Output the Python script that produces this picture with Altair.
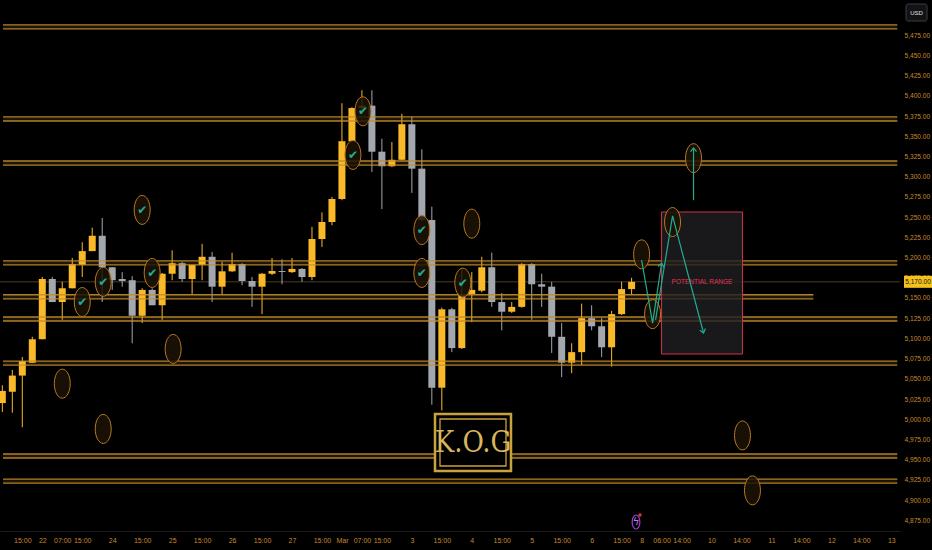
import math
import altair as alt
import pandas as pd

# ---- candles: bar index (one step per bar), open / high / low / close ----
bar_idx = list(range(-1, 63))
opens = [5020, 5034, 5054, 5070, 5099, 5173.5, 5145, 5162, 5191, 5208, 5227, 5188, 5173.5, 5172, 5128, 5160,
         5141, 5180, 5193, 5173.5, 5191, 5201, 5164, 5183, 5192, 5171, 5164, 5180, 5183.4, 5182, 5186, 5176,
         5223, 5244, 5272.5, 5344, 5385, 5388, 5331, 5313, 5321, 5365, 5310, 5246.5, 5039, 5136, 5088, 5155,
         5159, 5188, 5145, 5133, 5139, 5192, 5167, 5164, 5102, 5070, 5083, 5125, 5115, 5089, 5130, 5161]
highs = [5042, 5061, 5077, 5102, 5176, 5176, 5170, 5199.5, 5219, 5237, 5249, 5188, 5182, 5177, 5162, 5162,
         5181, 5209, 5195, 5191, 5217, 5207, 5195, 5206, 5193, 5176, 5181, 5199.5, 5198, 5199.5, 5187, 5238,
         5256, 5275, 5391, 5386, 5407, 5407, 5347, 5343, 5378, 5374, 5334, 5263, 5138, 5138, 5187, 5182,
         5201, 5206, 5156, 5145, 5193, 5193, 5180, 5170, 5119, 5094, 5143, 5141, 5125, 5134, 5170, 5175]
lows = [5009, 5008, 4990, 5069.6, 5099, 5145, 5123, 5162, 5176, 5208, 5145, 5160, 5164, 5094, 5119, 5141,
        5123, 5172, 5170, 5155, 5172, 5145, 5154, 5182, 5166, 5139, 5130, 5178.5, 5167, 5181, 5170, 5172,
        5213, 5240, 5271, 5343, 5383, 5306, 5260, 5312, 5320, 5280, 5245, 5018, 5011, 5083, 5087, 5120,
        5157, 5139, 5110, 5131.5, 5138, 5123, 5139, 5082, 5052, 5057, 5067, 5110, 5077, 5065, 5129, 5154]
closes = [5035, 5054, 5072, 5099, 5173.5, 5145, 5162, 5192, 5208, 5227, 5188, 5172, 5171, 5128, 5160, 5141,
          5180, 5193, 5173.5, 5191, 5201, 5164, 5183, 5192, 5171, 5164, 5180, 5183.4, 5182.2, 5186, 5176, 5223,
          5244, 5272.5, 5344, 5385, 5388, 5331, 5313, 5321, 5365, 5310, 5246.5, 5039, 5136, 5088, 5155, 5160,
          5188, 5145, 5133, 5139, 5192, 5167, 5164, 5102, 5070, 5083, 5125, 5115, 5089, 5130, 5161, 5170]
price_now = 5170

# ---- horizontal key levels (double lines) ----
level_top = [5488, 5374, 5319.5, 5196, 5154, 5126.5, 5072, 4957, 4926]
level_bot = [5483, 5369, 5314.5, 5191, 5149, 5121.5, 5067, 4952, 4921]
level_end = [88.6, 88.6, 88.6, 88.6, 80.2, 88.6, 88.6, 88.6, 88.6]

# ---- circled zones (bar index, price, has tick mark) ----
zone_k = [13.0, 9.1, 7.0, 14.0, 16.1, 5.0, 9.1, 35.1, 34.1, 41.0, 46.0, 41.0, 45.1, 68.2, 66.1, 63.0, 64.1, 73.1, 74.1]
zone_p = [5259, 5170, 5145, 5181, 5087, 5044, 4988, 5381, 5327, 5234, 5242, 5181, 5169, 5323, 5244, 5204, 5130, 4980, 4912]
zone_tick = [1, 1, 1, 1, 0, 0, 0, 1, 1, 1, 0, 1, 1, 0, 0, 0, 0, 0, 0]

# ---- projected path arrows ----
arrow_id = [0, 0, 0, 1, 1, 1, 2, 2]
arrow_step = [0, 1, 2, 0, 1, 2, 0, 1]
arrow_k = [63.0, 64.1, 65.0, 64.4, 66.1, 69.2, 68.2, 68.2]
arrow_p = [5197, 5119, 5193, 5123, 5251.5, 5106.7, 5271, 5335.6]

# ---- potential range box ----
range_k = [65.0, 73.1]
range_p = [5256.4, 5080.7]
range_label = "POTENTIAL RANGE"

# ---- axes ----
tick_k = [1, 3, 5, 7, 10, 13, 16, 19, 22, 25, 28, 31, 33, 35, 37, 40, 43, 46, 49, 52, 55, 58, 61,
          63, 65, 67, 70, 73, 76, 79, 82, 85, 88]
tick_txt = ["15:00", "22", "07:00", "15:00", "24", "15:00", "25", "15:00", "26", "15:00", "27", "15:00",
            "Mar", "07:00", "15:00", "3", "15:00", "4", "15:00", "5", "15:00", "6", "15:00",
            "8", "06:00", "14:00", "10", "14:00", "11", "14:00", "12", "14:00", "13"]
price_ticks = list(range(4875, 5476, 25))

W, H = 900, 531
X_DOMAIN = [-0.733, 88.37]
Y_DOMAIN = [4861.7, 5518.7]
XPX = W / (X_DOMAIN[1] - X_DOMAIN[0])
YPX = H / (Y_DOMAIN[1] - Y_DOMAIN[0])

xs = alt.Scale(domain=X_DOMAIN, nice=False, zero=False)
ys = alt.Scale(domain=Y_DOMAIN, nice=False, zero=False)

GOLD = "#f9b928"
GREY = "#a3a7ae"
LEVEL = "#c48d2e"
TEAL = "#1fae95"
AXIS_TXT = "#c8892c"
LABEL_FONT = "Liberation Sans"

label_expr = "''"
for k, t in reversed(list(zip(tick_k, tick_txt))):
    label_expr = f"datum.value == {k} ? '{t}' : ({label_expr})"

x_axis = alt.Axis(values=tick_k, labelExpr=label_expr, title=None, grid=False, ticks=False,
                  domain=True, domainColor="#1c1c1c", labelColor=AXIS_TXT, labelFontSize=7,
                  labelFont=LABEL_FONT, labelPadding=5, labelOverlap=False, labelFlush=False)
y_axis = alt.Axis(values=price_ticks, format=",.2f", orient="right", title=None, grid=False, ticks=False,
                  domain=False, labelColor=AXIS_TXT, labelFontSize=6.6, labelFont=LABEL_FONT,
                  labelPadding=4, labelAlign="left", labelOverlap=False, labelFlush=False)


# every layer carries the same axis definitions so the merged axes stay identical
def X(field):
    return alt.X(field, scale=xs, axis=x_axis)


def Y(field):
    return alt.Y(field, scale=ys, axis=y_axis)


candles = pd.DataFrame({"k": bar_idx, "o": opens, "h": highs, "l": lows, "c": closes})
candles["dir"] = ["up" if c >= o else "down" for o, c in zip(opens, closes)]
dir_color = alt.Color("dir:N", scale=alt.Scale(domain=["up", "down"], range=[GOLD, GREY]), legend=None)

wicks = alt.Chart(candles).mark_rule(strokeWidth=1, clip=True).encode(
    x=X("k:Q"), y=Y("l:Q"), y2="h:Q", color=dir_color
)
bodies = alt.Chart(candles).mark_bar(size=7, clip=True).encode(
    x=X("k:Q"), y=Y("o:Q"), y2="c:Q", color=dir_color
)

levels = pd.DataFrame({"top": level_top, "bot": level_bot, "end": level_end})
levels["start"] = X_DOMAIN[0] - 0.2
bands = alt.Chart(levels).mark_rect(color="#3a2a0c", opacity=0.5, clip=True).encode(
    x=X("start:Q"), x2="end:Q", y=Y("top:Q"), y2="bot:Q"
)
top_lines = alt.Chart(levels).mark_rule(color=LEVEL, strokeWidth=1.3, opacity=0.9, clip=True).encode(
    x=X("start:Q"), x2="end:Q", y=Y("top:Q")
)
bot_lines = alt.Chart(levels).mark_rule(color=LEVEL, strokeWidth=1.3, opacity=0.9, clip=True).encode(
    x=X("start:Q"), x2="end:Q", y=Y("bot:Q")
)

now_df = pd.DataFrame({"p": [price_now]})
now_line = alt.Chart(now_df).mark_rule(
    color="#8a6d3a", strokeWidth=0.8, opacity=0.7).encode(y=Y("p:Q"))

# ellipse outline as a custom symbol (cubic Bezier quarter arcs)
ELLIPSE = ("M0,-1 C0.304,-1 0.55,-0.552 0.55,0 C0.55,0.552 0.304,1 0,1 "
           "C-0.304,1 -0.55,0.552 -0.55,0 C-0.55,-0.552 -0.304,-1 0,-1 Z")
zones = pd.DataFrame({"k": zone_k, "p": zone_p, "tick": zone_tick})
zone_marks = alt.Chart(zones).mark_point(
    shape=ELLIPSE, size=841, filled=False, fill="#1c1305", fillOpacity=0.85,
    stroke="#b87a22", strokeWidth=1, opacity=1, clip=True
).encode(x=X("k:Q"), y=Y("p:Q"))
ticks_marks = alt.Chart(zones).transform_filter("datum.tick == 1").mark_text(
    text="\u2714", font="DejaVu Sans", fontSize=12, color=TEAL, align="center", baseline="middle"
).encode(x=X("k:Q"), y=Y("p:Q"))

rng = pd.DataFrame({"k1": [range_k[0]], "k2": [range_k[1]], "p1": [range_p[0]], "p2": [range_p[1]],
                    "km": [(range_k[0] + range_k[1]) / 2], "label": [range_label], "pm": [price_now]})
range_box = alt.Chart(rng).mark_rect(fill="#1f1f23", fillOpacity=0.8, stroke="#d9304a", strokeWidth=1).encode(
    x=X("k1:Q"), x2="k2:Q", y=Y("p1:Q"), y2="p2:Q"
)
range_text = alt.Chart(rng).mark_text(
    color="#e23650", fontSize=6.5, font=LABEL_FONT, align="center", baseline="middle"
).encode(x=X("km:Q"), y=Y("pm:Q"), text="label:N")

arrows = pd.DataFrame({"id": arrow_id, "step": arrow_step, "k": arrow_k, "p": arrow_p})
arrow_lines = alt.Chart(arrows).mark_line(color=TEAL, strokeWidth=1.2).encode(
    x=X("k:Q"), y=Y("p:Q"), detail="id:N", order="step:Q"
)
heads = []
for pid in sorted(set(arrow_id)):
    pts = [(k, p) for i, k, p in zip(arrow_id, arrow_k, arrow_p) if i == pid]
    (k0, p0), (k1, p1) = pts[-2], pts[-1]
    dx = (k1 - k0) * XPX
    dy = -(p1 - p0) * YPX
    ang = math.degrees(math.atan2(dx, -dy)) % 360
    heads.append({"k": k1, "p": p1, "ang": ang})
arrow_heads = alt.Chart(pd.DataFrame(heads)).mark_point(
    shape="M-0.6,0.75 L0,0 L0.6,0.75", size=100, filled=False, stroke=TEAL, strokeWidth=1.2, opacity=1
).encode(x=X("k:Q"), y=Y("p:Q"), angle=alt.Angle("ang:Q", scale=None))

one = pd.DataFrame({"v": [0]})

# K.O.G badge
logo_outer = alt.Chart(one).mark_rect(fill="#000000", stroke="#c9a23e", strokeWidth=2.5).encode(
    x=alt.value(435), x2=alt.value(511), y=alt.value(414), y2=alt.value(471))
logo_inner = alt.Chart(one).mark_rect(fill="#000000", stroke="#c9a23e", strokeWidth=1.3).encode(
    x=alt.value(440), x2=alt.value(506), y=alt.value(419), y2=alt.value(466))
logo_text = alt.Chart(one).mark_text(
    text="K.O.G", font="DejaVu Serif Condensed, Liberation Serif", fontSize=29, color="#d8b65a",
    align="center", baseline="middle"
).encode(x=alt.value(473), y=alt.value(443))

# event marker near the time axis
evt_ring = alt.Chart(one).mark_point(
    shape=ELLIPSE, size=196, filled=False, stroke="#9b3fd1", strokeWidth=1.2, opacity=1
).encode(x=alt.value(636), y=alt.value(522))
evt_glyph = alt.Chart(one).mark_text(
    text="\u03df", font="DejaVu Sans", fontSize=10, color="#c27cf0", align="center", baseline="middle"
).encode(x=alt.value(636), y=alt.value(522))
evt_dot = alt.Chart(one).mark_point(shape="circle", size=12, filled=True, color="#e0303f", opacity=1).encode(
    x=alt.value(640), y=alt.value(515))

# last price tag on the price scale
tag_box = alt.Chart(now_df).mark_tick(
    orient="horizontal", size=28, thickness=12, color="#f5c21b", opacity=1
).encode(x=alt.value(918), y=Y("p:Q"))
tag_text = alt.Chart(now_df).mark_text(
    color="#111111", fontSize=6.6, font=LABEL_FONT, align="center", baseline="middle"
).encode(x=alt.value(918), y=Y("p:Q"), text=alt.Text("p:Q", format=",.2f"))

# currency badge
usd_box = alt.Chart(one).mark_rect(fill="#131316", stroke="#3c3c40", strokeWidth=1, cornerRadius=2).encode(
    x=alt.value(906), x2=alt.value(927), y=alt.value(4), y2=alt.value(21))
usd_text = alt.Chart(one).mark_text(
    text="USD", color="#e0e0e0", fontSize=6, font=LABEL_FONT, align="center", baseline="middle"
).encode(x=alt.value(916.5), y=alt.value(12.5))

chart = alt.layer(
    bands, now_line, wicks, bodies, top_lines, bot_lines,
    range_box, range_text, zone_marks, ticks_marks, arrow_lines, arrow_heads,
    logo_outer, logo_inner, logo_text, evt_ring, evt_glyph, evt_dot,
    tag_box, tag_text, usd_box, usd_text,
).properties(
    width=W, height=H, autosize="none", background="#000000",
    padding={"left": 0, "top": 0, "right": 32, "bottom": 19},
).configure_view(stroke=None).configure_axis(labelOverlap=False)

chart.save("out.html", embed_options={"renderer": "svg", "actions": False})
